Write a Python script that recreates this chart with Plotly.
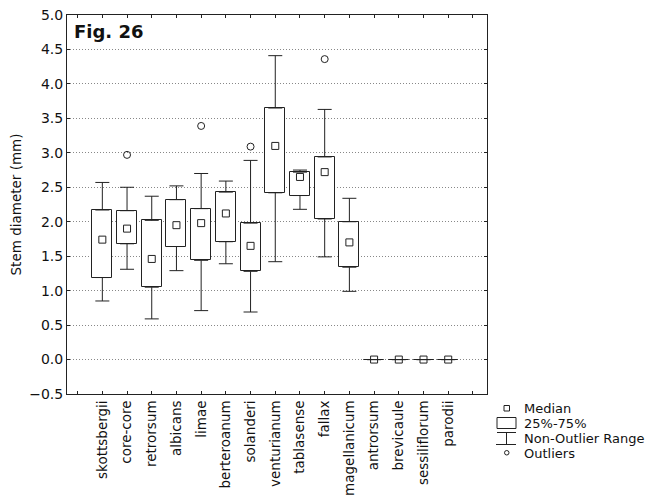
import plotly.graph_objects as go

categories = ["skottsbergii", "core-core", "retrorsum", "albicans", "limae",
              "berteroanum", "solanderi", "venturianum", "tablasense", "fallax",
              "magellanicum", "antrorsum", "brevicaule", "sessiliflorum", "parodii"]
medians = [1.74, 1.90, 1.46, 1.95, 1.98, 2.12, 1.65, 3.10, 2.65, 2.72, 1.70, 0.0, 0.0, 0.0, 0.0]
q1 = [1.19, 1.68, 1.05, 1.64, 1.44, 1.71, 1.28, 2.42, 2.38, 2.04, 1.34, 0.0, 0.0, 0.0, 0.0]
q3 = [2.17, 2.16, 2.02, 2.32, 2.19, 2.43, 1.98, 3.65, 2.72, 2.94, 2.00, 0.0, 0.0, 0.0, 0.0]
whisker_low = [0.85, 1.31, 0.59, 1.29, 0.71, 1.39, 0.69, 1.42, 2.18, 1.49, 0.99, 0.0, 0.0, 0.0, 0.0]
whisker_high = [2.57, 2.50, 2.37, 2.52, 2.70, 2.59, 2.89, 4.41, 2.75, 3.63, 2.34, 0.0, 0.0, 0.0, 0.0]
outlier_cats = ["core-core", "limae", "solanderi", "fallax"]
outlier_vals = [2.97, 3.39, 3.09, 4.36]

y_ticks = [-0.5, 0.0, 0.5, 1.0, 1.5, 2.0, 2.5, 3.0, 3.5, 4.0, 4.5, 5.0]

pos = {c: i + 1 for i, c in enumerate(categories)}
xs = [pos[c] for c in categories]

FONT = "DejaVu Sans"
LINE = "#222222"

fig = go.Figure()

# boxes 25%-75%
fig.add_trace(go.Bar(
    x=xs, base=q1, y=[b - a for a, b in zip(q1, q3)], width=0.81,
    marker=dict(color="white", line=dict(color=LINE, width=1)),
    showlegend=False, hoverinfo="skip"))

# upper whiskers
fig.add_trace(go.Scatter(
    x=xs, y=q3, mode="markers",
    marker=dict(size=1, color="rgba(0,0,0,0)"),
    error_y=dict(type="data", symmetric=False,
                 array=[h - t for h, t in zip(whisker_high, q3)],
                 arrayminus=[0] * len(xs), color=LINE, thickness=1, width=7),
    showlegend=False, hoverinfo="skip"))
# lower whiskers
fig.add_trace(go.Scatter(
    x=xs, y=q1, mode="markers",
    marker=dict(size=1, color="rgba(0,0,0,0)"),
    error_y=dict(type="data", symmetric=False,
                 array=[0] * len(xs),
                 arrayminus=[b - l for b, l in zip(q1, whisker_low)],
                 color=LINE, thickness=1, width=7),
    showlegend=False, hoverinfo="skip"))

# medians
fig.add_trace(go.Scatter(
    x=xs, y=medians, mode="markers",
    marker=dict(symbol="square-open", size=7, color=LINE, line=dict(width=1)),
    showlegend=False, hoverinfo="skip"))

# outliers
fig.add_trace(go.Scatter(
    x=[pos[c] for c in outlier_cats], y=outlier_vals, mode="markers",
    marker=dict(symbol="circle-open", size=7, color=LINE, line=dict(width=1)),
    showlegend=False, hoverinfo="skip"))

# page offset (default body margin) and target plot area in screen pixels
OFF = 8
L, R, T, B = 67, 487, 15, 394
W, H = R - L, B - T
def px(x):
    return (x - L) / W
def py(y):
    return (B - y) / H

shapes = []
# legend symbols
shapes.append(dict(type="rect", xref="paper", yref="paper",
                   x0=px(504), x1=px(509.5), y0=py(405.5), y1=py(411),
                   line=dict(color=LINE, width=1), fillcolor="white"))
shapes.append(dict(type="rect", xref="paper", yref="paper",
                   x0=px(497), x1=px(516), y0=py(417.5), y1=py(428.5),
                   line=dict(color=LINE, width=1), fillcolor="white"))
shapes.append(dict(type="line", xref="paper", yref="paper",
                   x0=px(497), x1=px(516), y0=py(432.5), y1=py(432.5),
                   line=dict(color=LINE, width=1)))
shapes.append(dict(type="line", xref="paper", yref="paper",
                   x0=px(506.5), x1=px(506.5), y0=py(432.5), y1=py(444.5),
                   line=dict(color=LINE, width=1)))
shapes.append(dict(type="line", xref="paper", yref="paper",
                   x0=px(496), x1=px(516), y0=py(444.5), y1=py(444.5),
                   line=dict(color=LINE, width=1)))
shapes.append(dict(type="circle", xref="paper", yref="paper",
                   x0=px(504.5), x1=px(509), y0=py(450.5), y1=py(455),
                   line=dict(color=LINE, width=1), fillcolor="white"))

legend_labels = ["Median", "25%-75%", "Non-Outlier Range", "Outliers"]
legend_y = [408, 423, 438, 453]
annotations = []
for lab, yy in zip(legend_labels, legend_y):
    annotations.append(dict(text=lab, xref="paper", yref="paper",
                            x=px(522), y=py(yy), xanchor="left", yanchor="middle",
                            showarrow=False, font=dict(family=FONT, size=13, color="#111")))
annotations.append(dict(text="<b>Fig. 26</b>", xref="paper", yref="paper",
                        x=px(72), y=py(31), xanchor="left", yanchor="middle",
                        showarrow=False, font=dict(family=FONT, size=18, color="#111")))

fig.update_layout(
    width=656 - OFF, height=500 - OFF,
    margin=dict(l=L - OFF, r=656 - R, t=T - OFF, b=500 - B, pad=0, autoexpand=False),
    paper_bgcolor="white", plot_bgcolor="white",
    font=dict(family=FONT, size=14, color="#111"),
    shapes=shapes, annotations=annotations,
    bargap=0,
)
fig.update_xaxes(
    range=[-0.43, 16.57], tickmode="array",
    tickvals=list(range(0, len(categories) + 2)),
    ticktext=[""] + categories + [""],
    tickangle=-90, ticks="inside", ticklen=3, tickcolor=LINE,
    showline=True, linecolor=LINE, linewidth=1, mirror="ticks",
    showgrid=False, zeroline=False, automargin=False,
    ticklabeloverflow="allow",
    tickfont=dict(family=FONT, size=13.5, color="#111"),
)
fig.update_yaxes(
    range=[-0.5, 5.0], tickmode="array", tickvals=y_ticks,
    ticktext=[("\u2212" if v < 0 else "") + f"{abs(v):.1f}" for v in y_ticks],
    ticks="inside", ticklen=3, tickcolor=LINE,
    showline=True, linecolor=LINE, linewidth=1, mirror="ticks",
    showgrid=True, gridcolor="#888888", griddash="1px,2px", gridwidth=1,
    zeroline=False, automargin=False,
    ticklabeloverflow="allow",
    tickfont=dict(family=FONT, size=14, color="#111"),
    title=dict(text="Stem diameter (mm)", font=dict(family=FONT, size=13.5, color="#111"),
               standoff=5),
)

fig.write_html("out.html")
